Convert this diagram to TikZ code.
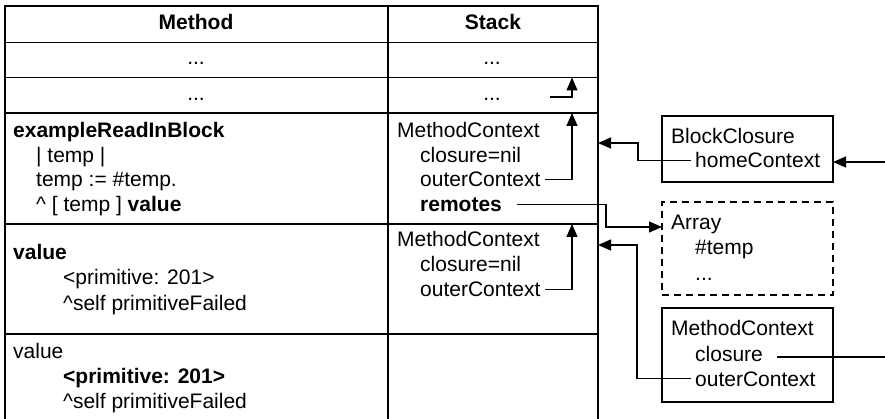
\documentclass[tikz,border=0pt]{standalone}
\usepackage{fontspec}
\setmainfont{Liberation Sans}
\usetikzlibrary{arrows.meta, calc}
\tikzset{
  cell/.style={rectangle, draw, line width=1.4pt, inner sep=0pt, outer sep=0pt, anchor=north west},
  txt/.style={font=\fontsize{21}{25}\selectfont, inner xsep=4pt, inner ysep=0pt, anchor=base west},
  txtb/.style={txt, font=\fontsize{21}{25}\selectfont\bfseries},
  obj/.style={rectangle, draw, line width=1.4pt, inner sep=0pt, outer sep=0pt, minimum width=171pt},
  objdash/.style={obj, dash pattern=on 7pt off 5pt},
  ptr/.style={line width=1.3pt},
  arr/.style={ptr, -{Triangle[length=13pt, width=11pt]}},
}

\begin{document}
\begin{tikzpicture}[x=1pt, y=-1pt]
  \useasboundingbox (0,0) rectangle (885,419);

  % table
  \node[cell, minimum width=383pt, minimum height=36.5pt] (mhead) at (5,6) {};
  \node[cell, minimum width=210pt, minimum height=36.5pt] (shead) at (mhead.north east) {};
  \foreach \r/\p/\h in {1/head/35, 2/1/35.5, 3/2/111, 4/3/110, 5/4/85.5} {
    \node[cell, minimum width=383pt, minimum height=\h pt] (m\r) at (m\p.south west) {};
    \node[cell, minimum width=210pt, minimum height=\h pt] (s\r) at (m\r.north east) {};
  }

  \node[txtb, anchor=base] (mtitle) at (196,30) {Method};
  \node[txtb, anchor=base] (stitle) at (493,30) {Stack};
  \node[txt, anchor=base] (m1dots) at (196,65) {...};
  \node[txt, anchor=base] (m2dots) at (196,101) {...};
  \node[txt, anchor=base] (s1dots) at (492,65) {...};
  \node[txt, anchor=base] (s2dots) at (492,101) {...};

  \node[txtb] (m3name) at (9,138) {exampleReadInBlock};
  \node[txt] (m3temps) at (32,162.5) {| temp |};
  \node[txt] (m3assign) at (32,187) {temp := \#temp.};
  \node[txt] (m3ret) at (32,211.5) {\textasciicircum\ [ temp ] \textbf{value}};

  \node[txtb] (m4name) at (9,260) {value};
  \node[txt] (m4prim) at (59,285) {<primitive: 201>};
  \node[txt] (m4fail) at (59,310) {\textasciicircum self primitiveFailed};

  \node[txt] (m5name) at (9,358) {value};
  \node[txtb] (m5prim) at (59,383) {<primitive: 201>};
  \node[txt] (m5fail) at (59,408) {\textasciicircum self primitiveFailed};

  \node[txt] (s3name) at (393,138) {MethodContext};
  \node[txt] (s3clos) at (416,162.5) {closure=nil};
  \node[txt] (s3outer) at (416,187) {outerContext};
  \node[txtb] (s3rem) at (416,211.5) {remotes};

  \node[txt] (s4name) at (393,247) {MethodContext};
  \node[txt] (s4clos) at (416,272) {closure=nil};
  \node[txt] (s4outer) at (416,297) {outerContext};

  % objects
  \node[obj, minimum height=66pt] (bc) at (747.5,149) {};
  \node[txt] (bcname) at (667,144) {BlockClosure};
  \node[txt] (bchome) at (691,168) {homeContext};

  \node[objdash, minimum height=93pt] (ary) at (747.5,248.5) {};
  \node[txt] (aryname) at (667,230) {Array};
  \node[txt] (aryel) at (691,255) {\#temp};
  \node[txt] (arydots) at (691,280) {...};

  \node[obj, minimum height=94pt] (mc) at (747.5,355) {};
  \node[txt] (mcname) at (667,335) {MethodContext};
  \node[txt] (mcclos) at (691,361) {closure};
  \node[txt] (mcouter) at (691,386) {outerContext};

  % pointers
  \coordinate (s2ptr) at (550,97);
  \coordinate (bcin) at (885,162);
  \coordinate (mcout) at (885,357);
  \draw[arr] (s2ptr) -| ([xshift=-26pt]s2.north east);
  \draw[arr] (s3outer.east) -| ([xshift=-26pt]s3.north east);
  \draw[arr] (s4outer.east) -| ([xshift=-26pt]s4.north east);
  \draw[arr] ([xshift=11pt]s3rem.east) -- ++(89,0) |- ([yshift=21.5pt]ary.west);
  \draw[arr] (bchome.west) -- ++(-53,0) |- ([yshift=25.5pt]s3.east);
  \draw[arr] (mcouter.west) -- ++(-54,0) |- ([yshift=34pt]s4.east);
  \draw[arr] (bcin) -- (bcin -| bc.east);
  \draw[ptr] ($(mcout -| mcclos.east)+(10,0)$) -- (mcout);
\end{tikzpicture}
\end{document}
